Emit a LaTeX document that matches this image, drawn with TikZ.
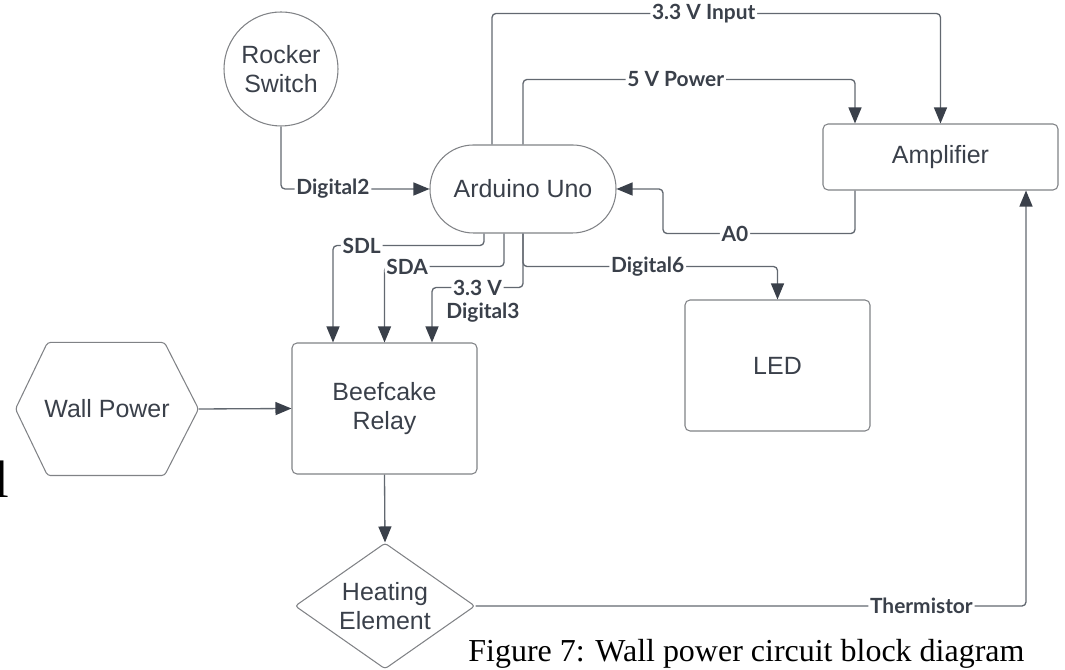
\documentclass[tikz,border=0pt]{standalone}
\usepackage{fontspec}
\setmainfont{Liberation Sans}
\newfontfamily\labelfont{Lato}
\newfontfamily\capfont{Liberation Serif}
\usepackage{tikz}
\usetikzlibrary{arrows.meta,positioning,shapes.geometric,calc}
\definecolor{wireG}{RGB}{98,104,112}
\definecolor{edgeG}{RGB}{128,130,134}
\definecolor{inkG}{RGB}{58,64,74}

\begin{document}
\begin{tikzpicture}[>={Triangle[length=3.2mm, width=2.6mm, color=inkG]},
  blk/.style={rectangle, rounded corners=1mm, draw=edgeG, line width=0.6pt, text=inkG,
              align=center, font=\fontsize{14.2}{16.5}\selectfont, inner sep=0pt},
  wire/.style={draw=wireG, line width=0.75pt, rounded corners=0.8mm},
  lab/.style={fill=white, inner sep=1pt, text=inkG,
              font=\labelfont\bfseries\fontsize{11.9}{14}\selectfont}]
  \useasboundingbox (0,0) rectangle (21.3,13.4);
  \node[blk, circle, rounded corners=0pt, minimum size=22.8mm] (rock) at (5.62,12.02) {Rocker\\ Switch};
  \node[blk, rounded corners=8.7mm, minimum width=37.2mm, minimum height=17.6mm] (ard) at (10.46,9.62) {Arduino Uno};
  \node[blk, minimum width=47mm, minimum height=13.2mm] (amp) at (18.81,10.26) {Amplifier};
  \node[blk, minimum width=37mm, minimum height=26.2mm] (led) at (15.55,6.09) {LED};
  \node[blk, minimum width=37mm, minimum height=26.2mm] (rel) at (7.69,5.23) {Beefcake\\ Relay};
  \node[blk, draw=none, minimum width=36.4mm, minimum height=26.4mm] (wall) at (2.14,5.22) {Wall Power};
  \node[blk, diamond, aspect=1.43, rounded corners=0.6mm, minimum width=36mm, minimum height=25.2mm] (heat) at (7.70,1.28) {Heating\\ Element};
  \draw[draw=edgeG, line width=0.6pt, rounded corners=0.6mm] (wall.west) -- ([xshift=6.4mm]wall.north west)
    -- ([xshift=-6.8mm]wall.north east) -- (wall.east) -- ([xshift=-6.8mm]wall.south east)
    -- ([xshift=6.4mm]wall.south west) -- cycle;
  \node[font=\capfont\fontsize{18.2}{22}\selectfont, anchor=base west, inner sep=0pt] (cap) at (9.36,0.16)
    {Figure 7: Wall power circuit block diagram};
  \node[font=\capfont\fontsize{30}{36}\selectfont, anchor=base west, inner sep=0pt] (cut) at (-0.12,3.44) {l};
  \draw[wire, ->] ([xshift=-6.2mm]ard.north) -- ++(0,2.62) -| node[lab, pos=0.236] {3.3 V Input} (amp.north);
  \draw[wire, ->] (ard.north) -- ++(0,1.30) -| node[lab, pos=0.23] {5 V Power} ([xshift=-17.1mm]amp.north);
  \draw[wire, ->] ([xshift=-17.1mm]amp.south) -- ++(0,-0.86) -- node[lab, pos=0.625] {A0} ++(-3.84,0) |- (ard.east);
  \draw[wire, ->] (rock.south) |- node[lab, pos=0.675] {Digital2} (ard.west);
  \draw[wire, ->] ([xshift=-7.8mm]ard.south) -- ++(0,-0.24) -| node[lab, pos=0.405] {SDL} ([xshift=-10.3mm]rel.north);
  \draw[wire, ->] ([xshift=-3.8mm]ard.south) -- ++(0,-0.66) -| node[lab, pos=0.405] {SDA} (rel.north);
  \draw[wire, ->] (ard.south) -- ++(0,-1.08) -| node[lab, pos=0.25] {3.3 V}
    node[lab, pos=0.22, yshift=-5mm] {Digital3} ([xshift=9.5mm]rel.north);
  \draw[wire, ->] (ard.south) -- ++(0,-0.66) -| node[lab, pos=0.245] {Digital6} (led.north);
  \draw[wire, ->] (wall.east) -- (rel.west);
  \draw[wire, ->] (rel.south) -- (heat.north);
  \draw[wire, ->] (heat.east) -| node[lab, pos=0.405] {Thermistor} ([xshift=17.1mm]amp.south);
\end{tikzpicture}
\end{document}
